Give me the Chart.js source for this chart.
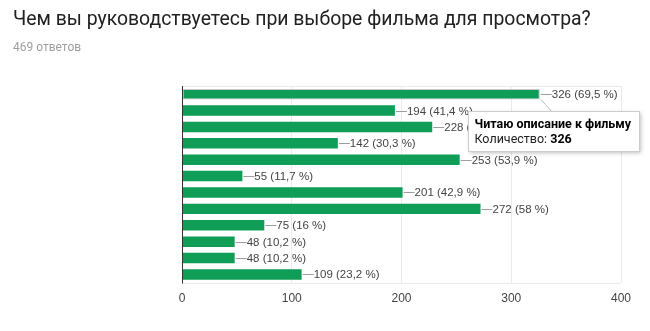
<!DOCTYPE html>
<html>
<head>
<meta charset="utf-8">
<script src="https://cdn.jsdelivr.net/npm/chart.js@4.4.1/dist/chart.umd.min.js"></script>
<style>
  html, body { margin: 0; padding: 0; background: #fff; }
  #wrap { position: relative; width: 650px; height: 331px; overflow: hidden; }
  #title { position: absolute; left: 13px; top: 7px; font: 400 19.4px Roboto, sans-serif; color: #212121; white-space: nowrap; }
  #sub { position: absolute; left: 13px; top: 40px; font: 400 12px Roboto, sans-serif; color: #9e9e9e; white-space: nowrap; }
  #chart { position: absolute; left: 0; top: 0; }
</style>
</head>
<body>
<div id="wrap">
  <canvas id="chart" width="650" height="331"></canvas>
  <div id="title">Чем вы руководствуетесь при выборе фильма для просмотра?</div>
  <div id="sub">469 ответов</div>
</div>
<script>
// Answer options (only the highlighted one carries a visible name)
const categories = [
  'Читаю описание к фильму',
  'Вариант 2', 'Вариант 3', 'Вариант 4', 'Вариант 5', 'Вариант 6',
  'Вариант 7', 'Вариант 8', 'Вариант 9', 'Вариант 10', 'Вариант 11', 'Вариант 12'
];
// Number of respondents who picked each option
const counts = [326, 194, 228, 142, 253, 55, 201, 272, 75, 48, 48, 109];
const totalResponses = 469;
const xTicks = [0, 100, 200, 300, 400];
const highlighted = 0;
const seriesName = 'Количество';

const GREEN = '#0f9d58';
const LABEL_FONT = '11.5px Arial, "Liberation Sans", sans-serif';
const CARD_FONT = '12.5px Roboto, Arial, sans-serif';
const CARD_BOLD = 'bold 12.5px Roboto, Arial, sans-serif';

function pctText(v) {
  const p = Math.round(v / totalResponses * 1000) / 10;
  return v + ' (' + String(p).replace('.', ',') + ' %)';
}

// Leader line + "count (percent)" label at the end of each bar
const valueLabels = {
  id: 'valueLabels',
  afterDatasetsDraw(chart) {
    const ctx = chart.ctx;
    const meta = chart.getDatasetMeta(0);
    ctx.save();
    ctx.font = LABEL_FONT;
    ctx.textBaseline = 'middle';
    meta.data.forEach((bar, i) => {
      const x = bar.x, y = Math.round(bar.y) + 0.5;
      ctx.strokeStyle = '#9e9e9e';
      ctx.lineWidth = 1;
      ctx.beginPath();
      ctx.moveTo(x + 1, y);
      ctx.lineTo(x + 12, y);
      ctx.stroke();
      ctx.fillStyle = '#444';
      ctx.fillText(pctText(counts[i]), x + 12, y + 0.5);
    });
    ctx.restore();
  }
};

// Light frame around the plot area, dark baseline on the left
const plotFrame = {
  id: 'plotFrame',
  beforeDatasetsDraw(chart) {
    const { ctx, chartArea: a } = chart;
    ctx.save();
    ctx.strokeStyle = '#ebebeb';
    ctx.lineWidth = 1;
    ctx.beginPath();
    ctx.moveTo(a.left, Math.round(a.top) + 0.5);
    ctx.lineTo(a.right, Math.round(a.top) + 0.5);
    ctx.moveTo(a.left, Math.round(a.bottom) + 0.5);
    ctx.lineTo(a.right, Math.round(a.bottom) + 0.5);
    ctx.stroke();
    ctx.restore();
  },
  afterDatasetsDraw(chart) {
    const { ctx, chartArea: a } = chart;
    ctx.save();
    ctx.strokeStyle = '#333';
    ctx.lineWidth = 1;
    ctx.beginPath();
    ctx.moveTo(Math.round(a.left) + 0.5, a.top);
    ctx.lineTo(Math.round(a.left) + 0.5, a.bottom + 1);
    ctx.stroke();
    ctx.restore();
  }
};

// Hover card for the highlighted option
const hoverCard = {
  id: 'hoverCard',
  afterDraw(chart) {
    const ctx = chart.ctx;
    const bar = chart.getDatasetMeta(0).data[highlighted];
    const ex = bar.x, ey = bar.y + bar.height / 2;
    const bx = Math.round(ex - 72) + 0.5, by = Math.round(ey + 12) + 0.5;
    const title = categories[highlighted];
    ctx.save();
    ctx.font = CARD_BOLD;
    const w1 = ctx.measureText(title).width;
    const bw = Math.round(w1 + 14), bh = 40;

    // pointer from bar end
    ctx.strokeStyle = '#bdbdbd';
    ctx.lineWidth = 1;
    ctx.beginPath();
    ctx.moveTo(ex + 1, ey);
    ctx.lineTo(ex + 12, by);
    ctx.stroke();

    ctx.shadowColor = 'rgba(0,0,0,0.25)';
    ctx.shadowBlur = 4;
    ctx.shadowOffsetX = 1;
    ctx.shadowOffsetY = 1;
    ctx.fillStyle = '#fff';
    ctx.fillRect(bx, by, bw, bh);
    ctx.shadowColor = 'transparent';
    ctx.strokeStyle = '#cccccc';
    ctx.strokeRect(bx, by, bw, bh);

    ctx.fillStyle = '#000';
    ctx.textBaseline = 'alphabetic';
    ctx.fillText(title, bx + 6, by + 16);
    ctx.font = CARD_FONT;
    ctx.fillStyle = '#222';
    const lab = seriesName + ': ';
    ctx.fillText(lab, bx + 6, by + 31);
    const lw = ctx.measureText(lab).width;
    ctx.font = CARD_BOLD;
    ctx.fillStyle = '#000';
    ctx.fillText(String(counts[highlighted]), bx + 6 + lw, by + 31);
    ctx.restore();
  }
};

new Chart(document.getElementById('chart'), {
  type: 'bar',
  data: {
    labels: categories,
    datasets: [{
      label: seriesName,
      data: counts,
      backgroundColor: GREEN,
      borderColor: counts.map((_, i) => i === highlighted ? '#c8c8c8' : GREEN),
      borderWidth: counts.map((_, i) => i === highlighted ? 1 : 0),
      borderSkipped: false,
      barPercentage: 0.64,
      categoryPercentage: 1
    }]
  },
  options: {
    indexAxis: 'y',
    responsive: false,
    animation: false,
    events: [],
    layout: { padding: { left: 174, right: 29, top: 86, bottom: 16 } },
    plugins: { legend: { display: false }, tooltip: { enabled: false } },
    scales: {
      x: {
        min: xTicks[0],
        max: xTicks[xTicks.length - 1],
        afterBuildTicks(axis) { axis.ticks = xTicks.map(v => ({ value: v })); },
        grid: { color: '#ebebeb', drawTicks: false },
        border: { display: false },
        ticks: {
          padding: 9,
          color: '#444',
          font: { family: 'Arial, "Liberation Sans", sans-serif', size: 12 }
        }
      },
      y: {
        grid: { display: false },
        border: { display: false },
        ticks: { display: false }
      }
    }
  },
  plugins: [plotFrame, valueLabels, hoverCard]
});
</script>
</body>
</html>
